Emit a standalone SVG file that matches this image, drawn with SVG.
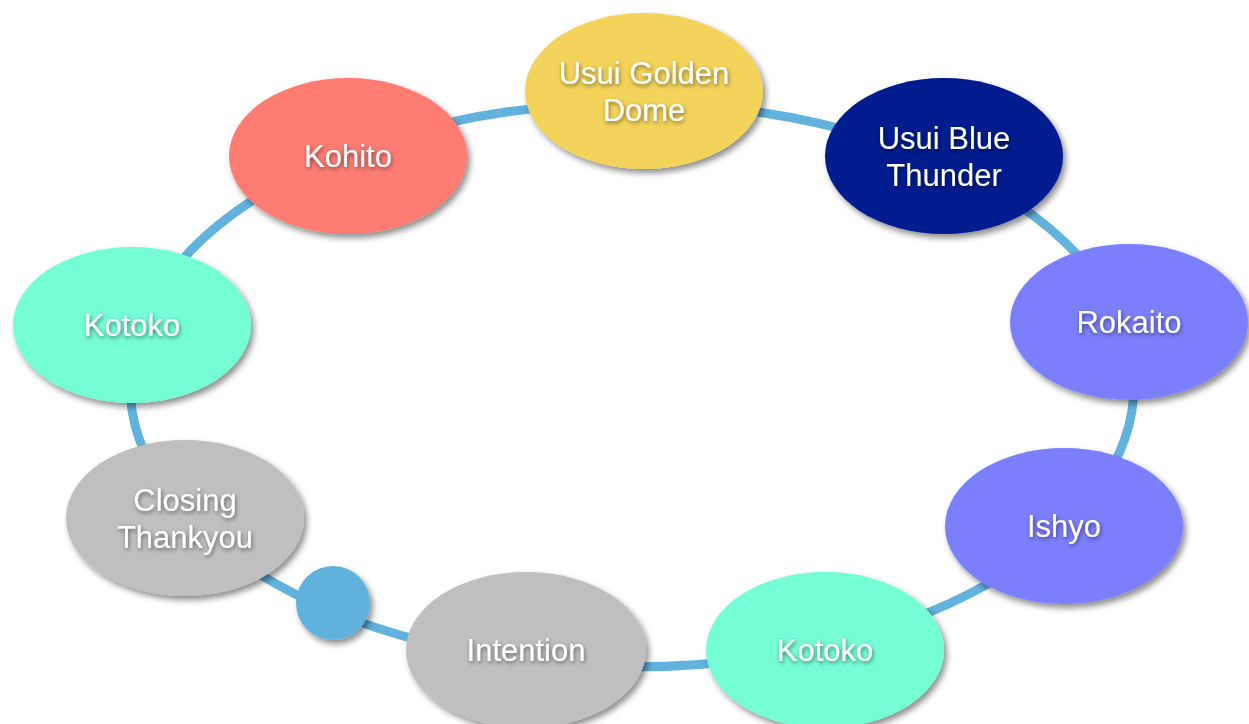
<svg xmlns="http://www.w3.org/2000/svg" width="1249" height="724" viewBox="0 0 1249 724">
<defs>
<filter id="sh" x="-20%" y="-20%" width="140%" height="140%">
<feGaussianBlur in="SourceAlpha" stdDeviation="3"/>
<feOffset dx="3" dy="4" result="b"/>
<feComponentTransfer><feFuncA type="linear" slope="0.45"/></feComponentTransfer>
<feMerge><feMergeNode/><feMergeNode in="SourceGraphic"/></feMerge>
</filter>
<filter id="tsh" x="-20%" y="-40%" width="140%" height="180%">
<feGaussianBlur in="SourceAlpha" stdDeviation="2"/>
<feOffset dx="1" dy="2" result="b"/>
<feComponentTransfer><feFuncA type="linear" slope="0.5"/></feComponentTransfer>
<feMerge><feMergeNode/><feMergeNode in="SourceGraphic"/></feMerge>
</filter>
</defs>
<style>
.n{filter:url(#sh)}
.t{font-family:"Liberation Sans",Arial,sans-serif;font-size:31px;fill:#ffffff;text-anchor:middle;filter:url(#tsh)}
.ring{fill:none;stroke:#61b2dd;stroke-width:9}
</style>
<rect width="1249" height="724" fill="#ffffff"/>
<g id="connectors">
<ellipse class="ring" cx="632" cy="385" rx="502" ry="282"/>
<circle class="n" cx="333" cy="603" r="37" fill="#61b2dd"/>
</g>
<g id="usui-golden-dome"><ellipse class="n" cx="644" cy="91" rx="119" ry="78" fill="#f4d35a"/><text class="t" x="644" y="84">Usui Golden</text><text class="t" x="644" y="121">Dome</text></g>
<g id="usui-blue-thunder"><ellipse class="n" cx="944" cy="156" rx="119" ry="78" fill="#001a8f"/><text class="t" x="944" y="149">Usui Blue</text><text class="t" x="944" y="186">Thunder</text></g>
<g id="rokaito"><ellipse class="n" cx="1129" cy="322" rx="119" ry="78" fill="#7b7ffd"/><text class="t" x="1129" y="333">Rokaito</text></g>
<g id="ishyo"><ellipse class="n" cx="1064" cy="526" rx="119" ry="78" fill="#7b7ffd"/><text class="t" x="1064" y="537">Ishyo</text></g>
<g id="kotoko-bottom"><ellipse class="n" cx="825" cy="650" rx="119" ry="78" fill="#74fdd5"/><text class="t" x="825" y="661">Kotoko</text></g>
<g id="intention"><ellipse class="n" cx="526" cy="650" rx="120" ry="78" fill="#bfbfbf"/><text class="t" x="526" y="661">Intention</text></g>
<g id="closing-thankyou"><ellipse class="n" cx="185" cy="518" rx="119" ry="78" fill="#bfbfbf"/><text class="t" x="185" y="511">Closing</text><text class="t" x="185" y="548">Thankyou</text></g>
<g id="kotoko-left"><ellipse class="n" cx="132" cy="325" rx="119" ry="78" fill="#74fdd5"/><text class="t" x="132" y="336">Kotoko</text></g>
<g id="kohito"><ellipse class="n" cx="348" cy="156" rx="119" ry="78" fill="#ff7b73"/><text class="t" x="348" y="167">Kohito</text></g>
</svg>
